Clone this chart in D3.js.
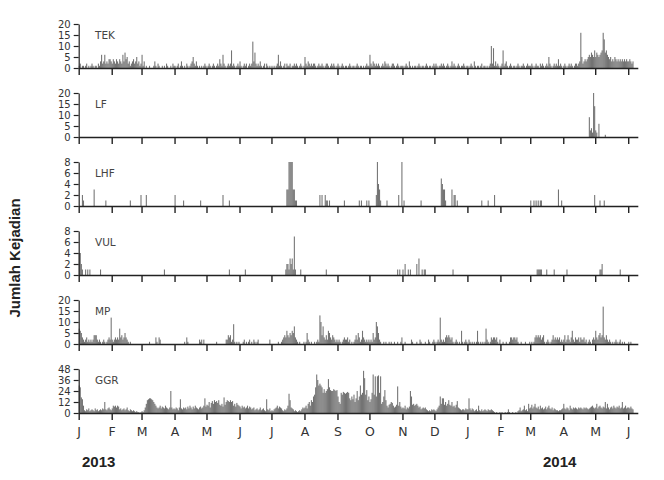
<!DOCTYPE html>
<html>
<head>
<meta charset="utf-8">
<script src="https://cdn.jsdelivr.net/npm/d3@7"></script>
<style>
  body { margin: 0; background: #fff; }
  svg { display: block; }
</style>
</head>
<body>
<svg width="664" height="480"></svg>
<script>
// daily counts, one string per month starting Jan 2013
const tekDaily = [
  "1 2 0 1 1 0 1 2 0 1 0 1 2 1 0 1 1 0 2 1 3 6 2 3 6 2 3 2 4 4 3",
  "2 4 3 2 4 3 2 4 3 2 6 3 7 4 5 2 3 1 2 3 4 2 3 5 2 3 1 2",
  "6 1 3 0 1 0 0 1 0 0 0 1 3 1 0 2 1 0 0 1 0 1 0 2 1 0 0 1 0 2 1",
  "1 0 1 2 0 1 3 1 0 1 0 2 1 0 1 2 3 5 2 1 3 1 0 1 0 1 0 1 2 1",
  "0 1 2 1 0 1 2 1 0 1 2 1 4 2 1 6 2 1 0 1 2 1 2 8 1 2 1 0 1 2 1",
  "3 1 0 1 2 1 2 0 1 2 1 2 12 3 7 2 1 2 1 3 1 0 1 2 0 2 1 0 1 0",
  "1 0 1 0 1 2 6 1 3 1 0 1 2 0 2 1 1 2 0 1 1 2 1 2 1 0 1 2 1 0 1",
  "5 2 1 3 2 1 2 1 2 2 1 0 1 2 1 1 2 1 0 1 2 2 1 0 1 2 1 2 1 0 1",
  "2 1 0 1 2 1 0 1 1 0 1 2 1 0 1 1 0 1 2 1 0 1 1 0 1 0 1 2 1 1",
  "6 2 1 3 2 1 2 1 2 1 0 1 2 1 3 2 1 2 1 0 1 2 2 1 0 1 2 1 0 1 1",
  "1 0 1 2 1 0 3 1 0 1 0 1 1 0 1 2 1 0 1 1 0 1 2 1 0 1 1 0 1 2",
  "1 2 1 0 1 1 2 1 2 1 0 1 2 1 0 1 3 1 2 1 0 1 2 1 0 1 1 2 1 0 1",
  "1 0 1 2 1 0 3 1 0 1 1 0 1 2 0 1 1 0 1 0 1 2 10 2 9 1 3 1 2 1 0",
  "1 2 8 1 2 3 1 0 1 2 1 0 1 1 0 1 2 1 0 1 1 2 1 0 1 2 1 1",
  "1 2 1 0 1 2 1 1 0 2 1 2 1 0 1 2 1 5 2 1 0 1 2 1 2 1 4 1 2 1 0",
  "1 2 1 0 1 2 1 2 1 0 1 2 2 1 2 3 16 5 2 3 4 3 4 5 6 5 7 6 5 8",
  "5 7 6 5 6 7 8 16 13 7 8 6 5 4 5 3 4 3 5 4 3 4 3 4 3 4 3 4 3 4 3",
  "3 4 3 2 3"
];

const mpDaily = [
  "7 6 5 3 2 1 2 3 1 2 1 2 1 2 4 4 4 2 1 2 1 0 1 2 1 0 1 2 3 2 12",
  "2 1 2 3 2 3 2 7 3 4 2 3 5 3 2 1 0 1 0 0 0 0 0 0 0 0 0 0",
  "0 0 0 0 0 0 0 1 0 0 0 0 0 3 1 0 3 2 0 0 0 0 0 0 0 0 0 0 0 0 0",
  "0 0 0 0 0 0 0 0 0 1 0 3 1 0 0 0 0 0 0 0 0 0 0 2 1 2 0 2 0 0",
  "0 0 0 0 0 0 0 0 0 1 0 0 0 0 0 0 0 0 2 2 4 3 4 1 2 9 1 0 1 0 1",
  "0 0 0 1 2 0 1 0 1 2 0 1 0 2 1 0 1 2 0 0 0 0 0 0 0 0 0 0 2 0",
  "0 0 0 0 0 0 1 0 0 1 2 3 4 3 6 4 3 5 4 6 5 8 3 2 1 0 1 0 0 0 1",
  "0 1 5 2 1 0 1 0 0 1 0 1 2 1 13 10 4 8 3 2 4 2 6 5 3 2 4 3 2 1 2",
  "1 2 1 0 1 2 3 2 2 3 1 2 0 1 0 1 2 4 2 5 3 1 2 6 3 2 1 2 1 2",
  "1 2 1 5 2 3 10 8 5 2 1 0 0 1 0 1 0 0 1 0 1 0 0 1 0 0 1 0 0 1 3",
  "0 0 1 0 0 0 0 0 2 1 0 0 0 1 0 0 2 1 0 0 0 1 0 0 2 1 0 0 1 2",
  "1 0 1 2 1 12 2 1 2 1 3 4 3 4 3 2 3 1 0 1 2 1 0 1 0 6 1 0 1 2 1",
  "0 2 1 0 1 0 1 0 1 6 1 0 1 0 1 0 1 7 2 1 0 1 3 2 3 3 2 3 1 0 2",
  "0 0 1 0 0 1 0 0 1 3 3 2 3 3 2 3 1 0 0 1 0 0 0 1 0 0 0 1",
  "0 1 0 1 3 4 3 4 3 4 2 3 4 1 0 1 2 1 0 1 2 4 2 3 2 3 2 3 1 2 1",
  "2 4 1 2 4 2 1 3 6 2 1 3 2 2 3 1 3 2 2 3 1 2 0 1 2 1 0 2 3 2",
  "6 3 2 4 5 3 4 17 3 2 4 2 1 2 1 0 1 0 1 2 1 0 1 2 0 1 0 1 0 0 0",
  "1 0 1 0 0"
];

const ggrDaily = [
  "30 28 17 15 8 3 2 4 3 5 2 3 4 3 2 5 3 4 2 3 4 3 5 4 12 4 3 5 6 4 3",
  "5 8 7 8 6 8 7 4 5 3 4 5 3 4 6 3 2 4 3 2 3 2 1 2 1 1 0 1",
  "2 1 3 6 10 14 15 16 16 15 14 12 10 8 6 5 6 8 5 7 6 5 8 6 5 4 6 24 6 4 5",
  "4 6 5 3 6 15 5 4 6 5 6 4 7 5 8 6 4 7 5 8 6 5 4 6 7 5 6 8 16 7",
  "9 8 12 6 11 13 10 14 12 13 11 14 9 8 10 7 17 9 12 14 13 12 14 12 13 8 10 7 11 9 8",
  "7 5 8 6 7 5 6 8 5 7 6 4 5 6 3 4 5 3 4 6 3 4 5 3 2 15 4 3 5 2",
  "3 2 4 5 6 8 5 7 6 5 3 2 4 3 5 8 21 14 6 5 4 2 3 2 1 2 3 2 4 6 5",
  "6 8 5 10 12 8 14 12 18 20 28 42 36 30 32 30 28 22 26 22 24 26 37 28 25 24 24 26 25 24 25",
  "18 12 10 22 20 23 22 21 22 23 22 16 14 18 15 20 12 16 24 14 18 30 20 22 46 38 20 25 14 18",
  "12 15 22 42 20 40 18 40 41 22 40 10 12 18 25 14 8 6 9 10 12 11 8 6 7 9 29 8 12 7 5",
  "6 5 8 4 6 5 7 24 18 9 10 8 9 10 8 6 7 4 5 6 5 6 4 3 2 3 2 4 3 4",
  "3 2 4 6 8 18 10 16 16 9 12 8 10 14 9 8 12 7 8 6 9 13 6 5 4 3 4 4 3 5 4",
  "4 16 5 3 5 4 2 3 4 2 8 3 2 4 2 3 4 3 2 4 3 3 4 3 2 1 0 1 0 0 1",
  "0 1 0 0 1 0 1 4 1 0 0 1 0 0 1 0 2 3 6 2 3 4 8 3 4 2 10 5",
  "6 9 5 7 10 6 5 7 4 8 5 6 4 5 7 4 6 8 5 4 6 3 5 4 3 3 2 3 3 4 5",
  "10 5 4 6 5 3 8 5 4 6 5 6 5 4 6 5 6 5 4 6 5 6 5 4 5 6 7 8 6 5",
  "6 10 5 7 8 6 5 7 6 12 5 10 6 4 6 7 5 8 6 5 7 6 8 5 6 12 5 6 8 5 6",
  "6 5 7 5 4"
];

// sparse series: [date, count]
const lfEvents = [
  ["2014-04-25", 9], ["2014-04-26", 3], ["2014-04-27", 4], ["2014-04-28", 2],
  ["2014-04-29", 20], ["2014-04-30", 14], ["2014-05-01", 3], ["2014-05-02", 2],
  ["2014-05-04", 6], ["2014-05-10", 1]
];

const lhfEvents = [
  ["2013-01-04", 2], ["2013-01-05", 1], ["2013-01-15", 3], ["2013-01-26", 1],
  ["2013-02-18", 1], ["2013-02-28", 2], ["2013-03-05", 2], ["2013-04-01", 2],
  ["2013-04-09", 1], ["2013-04-25", 1], ["2013-05-16", 2], ["2013-05-22", 1],
  ["2013-07-15", 3], ["2013-07-16", 3], ["2013-07-17", 8], ["2013-07-18", 8],
  ["2013-07-19", 8], ["2013-07-20", 8], ["2013-07-21", 3], ["2013-07-22", 3],
  ["2013-07-23", 1], ["2013-07-24", 1], ["2013-08-15", 2], ["2013-08-17", 2],
  ["2013-08-20", 2], ["2013-08-21", 1], ["2013-08-22", 1], ["2013-08-24", 1],
  ["2013-09-07", 1], ["2013-09-21", 1], ["2013-09-23", 1], ["2013-09-28", 1],
  ["2013-09-30", 1], ["2013-10-07", 2], ["2013-10-08", 8], ["2013-10-09", 4],
  ["2013-10-10", 3], ["2013-10-11", 1], ["2013-10-17", 1], ["2013-10-28", 2],
  ["2013-10-31", 8], ["2013-11-02", 1], ["2013-11-18", 1], ["2013-12-07", 5],
  ["2013-12-08", 4], ["2013-12-09", 3], ["2013-12-10", 3], ["2013-12-11", 1],
  ["2013-12-17", 3], ["2013-12-19", 2], ["2013-12-20", 2], ["2013-12-22", 1],
  ["2014-01-14", 1], ["2014-01-20", 1], ["2014-01-26", 2], ["2014-03-01", 1],
  ["2014-03-04", 1], ["2014-03-06", 1], ["2014-03-08", 1], ["2014-03-10", 1],
  ["2014-03-11", 1], ["2014-03-27", 3], ["2014-03-30", 1], ["2014-04-30", 2],
  ["2014-05-05", 1], ["2014-05-09", 1]
];

const vulEvents = [
  ["2013-01-01", 4], ["2013-01-02", 4], ["2013-01-03", 2], ["2013-01-04", 1],
  ["2013-01-07", 1], ["2013-01-09", 1], ["2013-01-11", 1], ["2013-01-21", 1],
  ["2013-03-22", 1], ["2013-05-22", 1], ["2013-06-06", 1], ["2013-07-14", 1],
  ["2013-07-15", 2], ["2013-07-16", 2], ["2013-07-17", 1], ["2013-07-18", 3],
  ["2013-07-19", 2], ["2013-07-20", 3], ["2013-07-21", 1], ["2013-07-22", 7],
  ["2013-07-23", 1], ["2013-07-28", 1], ["2013-08-21", 1], ["2013-10-27", 1],
  ["2013-10-29", 1], ["2013-11-01", 1], ["2013-11-03", 2], ["2013-11-06", 1],
  ["2013-11-08", 1], ["2013-11-14", 2], ["2013-11-16", 3], ["2013-11-19", 1],
  ["2013-11-21", 1], ["2013-11-22", 1], ["2013-12-18", 1], ["2014-03-07", 1],
  ["2014-03-08", 1], ["2014-03-09", 1], ["2014-03-10", 1], ["2014-03-11", 1],
  ["2014-03-16", 1], ["2014-03-23", 1], ["2014-04-04", 1], ["2014-05-05", 1],
  ["2014-05-06", 1], ["2014-05-07", 2], ["2014-05-24", 1]
];

const panelNames = ["TEK", "LF", "LHF", "VUL", "MP", "GGR"];
const tickSets = [
  [0, 5, 10, 15, 20],
  [0, 5, 10, 15, 20],
  [0, 2, 4, 6, 8],
  [0, 2, 4, 6, 8],
  [0, 5, 10, 15, 20],
  [0, 12, 24, 36, 48]
];
const monthLetters = ["J", "F", "M", "A", "M", "J", "J", "A", "S", "O", "N", "D"];
const yearLabels = ["2013", "2014"];
const yAxisTitle = "Jumlah Kejadian";

function fromMonths(months) {
  const out = [];
  months.forEach((s, m) => {
    const start = new Date(Date.UTC(2013, m, 1));
    s.trim().split(/\s+/).forEach((v, k) => {
      out.push({ date: d3.utcDay.offset(start, k), value: +v });
    });
  });
  return out;
}

function fromPairs(pairs) {
  return pairs.map(([d, v]) => ({ date: new Date(d + "T00:00:00Z"), value: v }));
}

const seriesList = [
  fromMonths(tekDaily),
  fromPairs(lfEvents),
  fromPairs(lhfEvents),
  fromPairs(vulEvents),
  fromMonths(mpDaily),
  fromMonths(ggrDaily)
];

const svg = d3.select("svg");
const sans = "'DejaVu Sans', 'Liberation Sans', Arial, sans-serif";

const x = d3.scaleUtc()
  .domain([new Date(Date.UTC(2013, 0, 1)), new Date(Date.UTC(2014, 5, 10))])
  .range([78.7, 637.8]);

const panelH = 44;
const firstBase = 68;
const step = 69;

seriesList.forEach((data, i) => {
  const base = firstBase + i * step;
  const ticks = tickSets[i];
  const y = d3.scaleLinear()
    .domain([0, d3.max(ticks)])
    .range([base, base - panelH]);

  const g = svg.append("g");

  // bars
  g.append("g")
    .selectAll("rect")
    .data(data.filter(d => d.value > 0))
    .join("rect")
    .attr("x", d => x(d.date))
    .attr("width", d => Math.max(1, x(d3.utcDay.offset(d.date, 1)) - x(d.date)))
    .attr("y", d => y(d.value))
    .attr("height", d => y(0) - y(d.value))
    .attr("fill", "#505050")
    .attr("fill-opacity", 0.8);

  // x axis
  const isLast = i === seriesList.length - 1;
  const xAxis = d3.axisBottom(x)
    .ticks(d3.utcMonth.every(1))
    .tickSize(7)
    .tickSizeOuter(0)
    .tickPadding(7)
    .tickFormat(d => isLast ? monthLetters[d.getUTCMonth()] : "");

  const gx = g.append("g")
    .attr("transform", `translate(0,${base})`)
    .call(xAxis);
  gx.select(".domain").attr("stroke", "#222").attr("stroke-width", 1.4);
  gx.selectAll(".tick line").attr("stroke", "#222").attr("stroke-width", 1.4);
  gx.selectAll("text")
    .attr("fill", "#333")
    .style("font-family", sans)
    .style("font-size", "12.5px");

  // y axis
  const yAxis = d3.axisLeft(y)
    .tickValues(ticks)
    .tickSize(5)
    .tickSizeOuter(0)
    .tickPadding(3);

  const gy = g.append("g")
    .attr("transform", `translate(${x.range()[0]},0)`)
    .call(yAxis);
  gy.select(".domain").attr("stroke", "#222").attr("stroke-width", 1.2);
  gy.selectAll(".tick line").attr("stroke", "#222").attr("stroke-width", 1.2);
  gy.selectAll("text")
    .attr("fill", "#333")
    .style("font-family", sans)
    .style("font-size", "10px");

  // panel name
  g.append("text")
    .attr("x", 95)
    .attr("y", base - panelH + 15)
    .attr("fill", "#444")
    .style("font-family", sans)
    .style("font-size", "10.5px")
    .text(panelNames[i]);
});

// years under the axis
svg.selectAll("text.year")
  .data(yearLabels)
  .join("text")
  .attr("class", "year")
  .attr("x", (d, i) => i === 0 ? 82 : 543)
  .attr("y", 467)
  .attr("fill", "#222")
  .style("font-family", "'Liberation Sans', Arial, sans-serif")
  .style("font-weight", "bold")
  .style("font-size", "15px")
  .text(d => d);

// y title
svg.append("text")
  .attr("transform", "translate(20,258) rotate(-90)")
  .attr("text-anchor", "middle")
  .attr("fill", "#222")
  .style("font-family", "'Liberation Sans', Arial, sans-serif")
  .style("font-weight", "bold")
  .style("font-size", "15px")
  .text(yAxisTitle);
</script>
</body>
</html>
